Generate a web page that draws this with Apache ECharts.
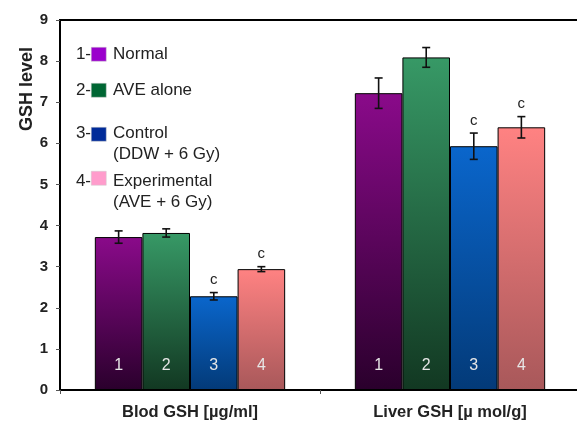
<!DOCTYPE html>
<html>
<head>
<meta charset="utf-8">
<script src="https://cdn.jsdelivr.net/npm/echarts@6/dist/echarts.min.js"></script>
<style>
  html, body { margin: 0; padding: 0; background: #fff; }
  #chart { width: 577px; height: 425px; }
</style>
</head>
<body>
<div id="chart"></div>
<script>
var chart = echarts.init(document.getElementById('chart'));

var categories = ['Blod GSH [µg/ml]', 'Liver GSH [µ mol/g]'];
var groupNames = ['Normal', 'AVE alone', 'Control', 'Experimental'];
var legendLines = [['Normal'], ['AVE alone'], ['Control', '(DDW + 6 Gy)'], ['Experimental', '(AVE + 6 Gy)']];
var yTicks = [0, 1, 2, 3, 4, 5, 6, 7, 8, 9];

// values per group: [blood, liver]
var normalVals = [3.72, 7.22];
var aveVals = [3.82, 8.09];
var controlVals = [2.28, 5.93];
var experVals = [2.94, 6.39];
var seriesVals = [normalVals, aveVals, controlVals, experVals];

// error (+/-)
var normalErr = [0.15, 0.37];
var aveErr = [0.1, 0.24];
var controlErr = [0.09, 0.32];
var experErr = [0.06, 0.26];
var seriesErr = [normalErr, aveErr, controlErr, experErr];

// significance marks
var marks = [['', ''], ['', ''], ['c', 'c'], ['c', 'c']];

var topColors = ['#8a0a8a', '#379966', '#0a66cc', '#ff8282'];
var bottomColors = ['#2a002c', '#123822', '#033a78', '#a8585a'];
var legendColors = ['#9a00cc', '#006633', '#002b99', '#ff9ccc'];

var barPct = 0.183;

var series = [];
seriesVals.forEach(function (vals, i) {
  series.push({
    name: groupNames[i],
    type: 'bar',
    barWidth: (barPct * 100) + '%',
    barGap: '0%',
    data: vals,
    itemStyle: {
      borderColor: '#000',
      borderWidth: 1,
      color: new echarts.graphic.LinearGradient(0, 0, 0, 1, [
        { offset: 0, color: topColors[i] },
        { offset: 1, color: bottomColors[i] }
      ])
    },
    label: {
      show: true,
      position: 'insideBottom',
      distance: 16,
      formatter: String(i + 1),
      color: '#e6e6e6',
      fontSize: 16,
      fontFamily: 'Liberation Sans'
    },
    z: 2
  });
});

// error bars and "c" marks
var errData = [];
seriesVals.forEach(function (vals, i) {
  vals.forEach(function (v, c) {
    errData.push([c, v, seriesErr[i][c], i, marks[i][c]]);
  });
});

series.push({
  type: 'custom',
  name: 'error',
  data: errData,
  z: 5,
  renderItem: function (params, api) {
    var c = api.value(0);
    var v = api.value(1);
    var e = api.value(2);
    var si = api.value(3);
    var mark = errData[params.dataIndex][4];
    var band = api.size([1, 0])[0];
    var dx = (si - 1.5) * barPct * band;
    var hi = api.coord([c, v + e]);
    var lo = api.coord([c, v - e]);
    var x = hi[0] + dx;
    var cap = 4;
    var style = { stroke: '#111', lineWidth: 1.6 };
    var kids = [
      { type: 'line', shape: { x1: x, y1: hi[1], x2: x, y2: lo[1] }, style: style },
      { type: 'line', shape: { x1: x - cap, y1: hi[1], x2: x + cap, y2: hi[1] }, style: style },
      { type: 'line', shape: { x1: x - cap, y1: lo[1], x2: x + cap, y2: lo[1] }, style: style }
    ];
    if (mark) {
      kids.push({
        type: 'text',
        style: {
          text: mark, x: x, y: hi[1] - 5,
          align: 'center', verticalAlign: 'bottom',
          fontSize: 15, fontFamily: 'Liberation Sans', fill: '#222'
        }
      });
    }
    return { type: 'group', children: kids };
  }
});

// legend drawn as graphic (number prefix + square + text)
var legendTextTops = [44, 80, 123, 171];
var legendBoxTops = [47, 83, 127, 171];
var legendGraphic = [];
legendLines.forEach(function (lines, i) {
  legendGraphic.push({
    type: 'text', right: 577 - 91, top: legendTextTops[i],
    style: { text: (i + 1) + '-', fontSize: 17, lineHeight: 21, fontFamily: 'Liberation Sans', fill: '#222' }
  });
  legendGraphic.push({
    type: 'rect', left: 91, top: legendBoxTops[i],
    shape: { width: 15, height: 14 },
    style: { fill: legendColors[i], stroke: '#ccc', lineWidth: 0.5 }
  });
  legendGraphic.push({
    type: 'text', left: 113, top: legendTextTops[i],
    style: { text: lines.join('\n'), fontSize: 17, lineHeight: 21, fontFamily: 'Liberation Sans', fill: '#222' }
  });
});
legendGraphic.push({
  type: 'text', left: 18, top: 47, rotation: Math.PI / 2,
  style: { text: 'GSH level', fontSize: 18, fontWeight: 'bold', fontFamily: 'Liberation Sans', fill: '#222' }
});

var option = {
  backgroundColor: '#fff',
  animation: false,
  grid: {
    left: 60, top: 20, width: 520, bottom: 35,
    outerBoundsMode: 'none',
    show: true, borderColor: '#000', borderWidth: 2
  },
  xAxis: {
    type: 'category',
    data: categories,
    axisLine: { lineStyle: { color: '#000', width: 2 } },
    axisTick: { show: true, length: 4, lineStyle: { color: '#555' } },
    axisLabel: {
      margin: 14, color: '#222', fontSize: 16.5, fontWeight: 'bold',
      fontFamily: 'Liberation Sans'
    }
  },
  yAxis: {
    type: 'value',
    min: yTicks[0],
    max: yTicks[yTicks.length - 1],
    interval: 1,
    splitLine: { show: false },
    axisLine: { show: true, lineStyle: { color: '#000', width: 2 } },
    axisTick: { show: true, length: 4, lineStyle: { color: '#555' } },
    axisLabel: {
      margin: 12, color: '#222', fontSize: 15, fontWeight: 'bold',
      fontFamily: 'Liberation Sans',
      formatter: function (v) { return yTicks.indexOf(v) >= 0 ? String(v) : ''; }
    }
  },
  graphic: legendGraphic,
  series: series
};

chart.setOption(option);
</script>
</body>
</html>
